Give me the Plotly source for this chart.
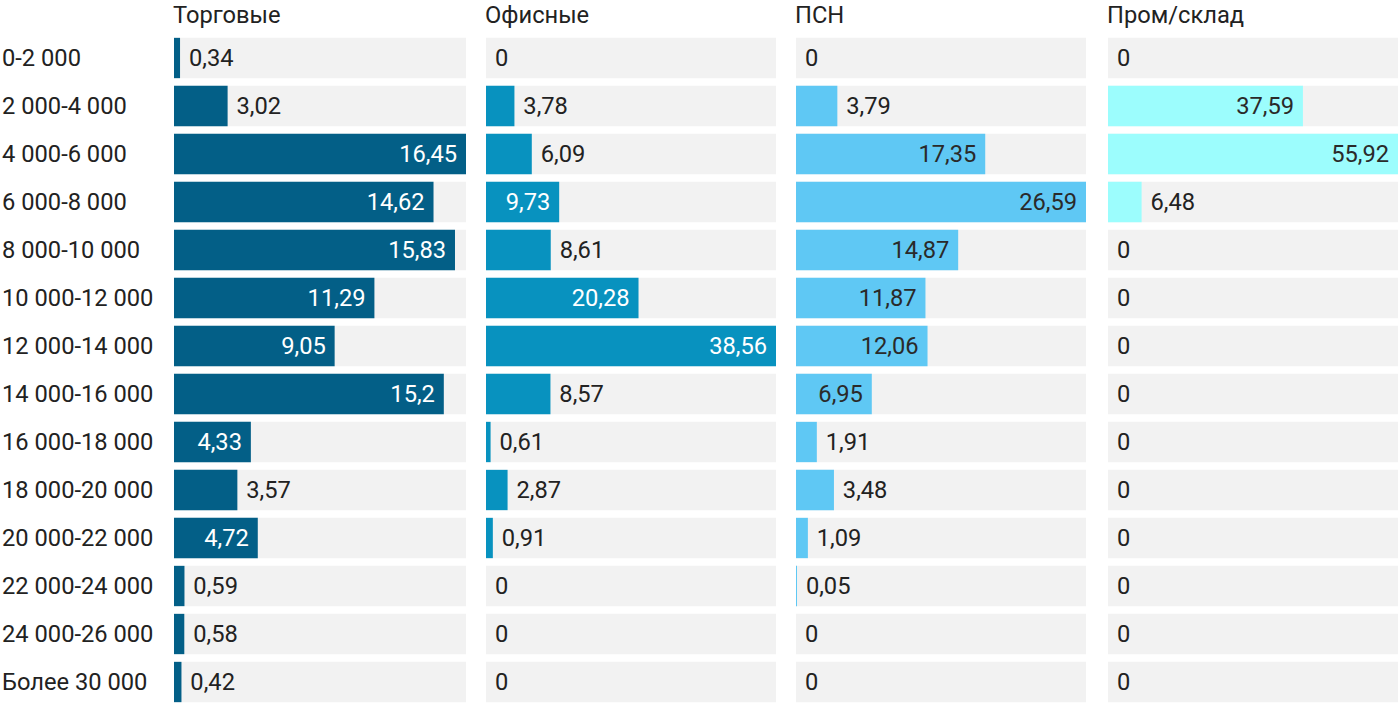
import plotly.graph_objects as go

categories = ["0-2 000", "2 000-4 000", "4 000-6 000", "6 000-8 000", "8 000-10 000",
              "10 000-12 000", "12 000-14 000", "14 000-16 000", "16 000-18 000",
              "18 000-20 000", "20 000-22 000", "22 000-24 000", "24 000-26 000",
              "Более 30 000"]

panel_titles = ["Торговые", "Офисные", "ПСН", "Пром/склад"]

torgovye = [0.34, 3.02, 16.45, 14.62, 15.83, 11.29, 9.05, 15.2, 4.33, 3.57, 4.72, 0.59, 0.58, 0.42]
ofisnye = [0, 3.78, 6.09, 9.73, 8.61, 20.28, 38.56, 8.57, 0.61, 2.87, 0.91, 0, 0, 0]
psn = [0, 3.79, 17.35, 26.59, 14.87, 11.87, 12.06, 6.95, 1.91, 3.48, 1.09, 0.05, 0, 0]
prom_sklad = [0, 37.59, 55.92, 6.48, 0, 0, 0, 0, 0, 0, 0, 0, 0, 0]

series = [torgovye, ofisnye, psn, prom_sklad]
colors = ["#035f87", "#0892bf", "#5fc8f4", "#9cfdfd"]
inside_text_colors = ["#ffffff", "#ffffff", "#2a2a2a", "#2a2a2a"]
outside_color = "#222222"
bg_color = "#f2f2f2"
FS = 23.7

W, H = 1400, 718
panel_px = [(174, 466), (486, 776), (796, 1086), (1108, 1398)]

fig = go.Figure()
NB = "\u00a0"

for i, vals in enumerate(series):
    xa = "x" if i == 0 else f"x{i+1}"
    ya = "y" if i == 0 else f"y{i+1}"
    vmax = max(vals)
    fig.add_trace(go.Bar(
        x=[vmax] * len(categories), y=categories, orientation="h",
        marker=dict(color=bg_color, line=dict(width=0)), width=0.84,
        xaxis=xa, yaxis=ya, hoverinfo="skip", showlegend=False,
    ))
    texts, positions, tcolors = [], [], []
    for v in vals:
        label = f"{v:g}".replace(".", ",")
        if v / vmax > 0.24:
            texts.append(label + NB)
            positions.append("inside")
            tcolors.append(inside_text_colors[i])
        else:
            texts.append(NB + label)
            positions.append("outside")
            tcolors.append(outside_color)
    fig.add_trace(go.Bar(
        x=vals, y=categories, orientation="h",
        marker=dict(color=colors[i], line=dict(width=0)), width=0.84,
        text=texts, textposition=positions, insidetextanchor="end",
        textangle=0, constraintext="none", cliponaxis=False,
        textfont=dict(color=tcolors, size=FS, family="Roboto"),
        xaxis=xa, yaxis=ya, showlegend=False,
        hovertemplate="%{y}: %{x}<extra></extra>",
    ))

layout = dict(
    width=W, height=H,
    margin=dict(l=0, r=0, t=34, b=12),
    paper_bgcolor="white", plot_bgcolor="white",
    barmode="overlay",
    font=dict(family="Roboto", size=FS, color="#222222"),
    showlegend=False,
)
for i, (x0, x1) in enumerate(panel_px):
    suffix = "" if i == 0 else str(i + 1)
    vmax = max(series[i])
    layout[f"xaxis{suffix}"] = dict(
        domain=[x0 / W, x1 / W], range=[0, vmax], visible=False, fixedrange=True,
        anchor=f"y{suffix}",
    )
    layout[f"yaxis{suffix}"] = dict(
        autorange="reversed", visible=False, anchor=f"x{suffix}",
        categoryorder="array", categoryarray=categories, fixedrange=True,
    )
fig.update_layout(**layout)

annotations = []
for c in categories:
    annotations.append(dict(
        text=c, xref="paper", yref="y", x=0, y=c, xanchor="left", yanchor="middle",
        showarrow=False, font=dict(size=FS, color="#222222", family="Roboto"),
    ))
plot_h = H - 34 - 12
for i, t in enumerate(panel_titles):
    annotations.append(dict(
        text=t, xref="paper", yref="paper", x=(panel_px[i][0] - 3) / W, y=1 + (34 - 15) / plot_h,
        xanchor="left", yanchor="middle", showarrow=False,
        font=dict(size=FS, color="#222222", family="Roboto"),
    ))
fig.update_layout(annotations=annotations)

fig.write_html("out.html", config={"displayModeBar": False},
               post_script="document.body.style.margin='0';document.body.style.overflow='hidden';")
